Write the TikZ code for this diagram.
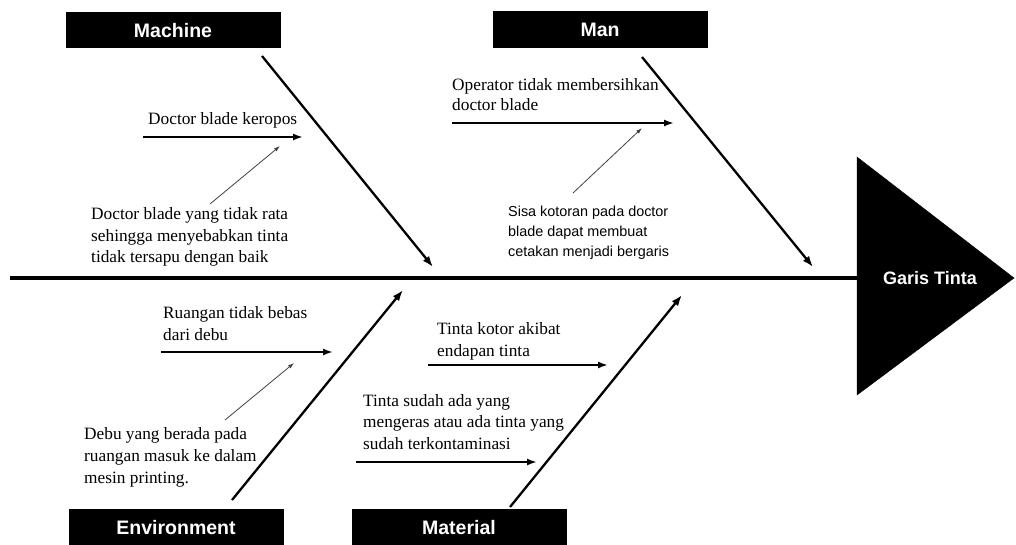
\documentclass[tikz,border=0pt]{standalone}
\usepackage{fontspec}
\setmainfont{Liberation Serif}
\setsansfont{Liberation Sans}
\usetikzlibrary{arrows.meta}

\begin{document}
\begin{tikzpicture}[x=1pt,y=-1pt,
  catbox/.style={fill=black,text=white,minimum width=215pt,minimum height=36pt,inner sep=0pt,text height=14pt,text depth=0pt,font=\sffamily\bfseries\fontsize{19.5}{22}\selectfont},
  causetxt/.style={anchor=west,inner sep=0pt,align=left,font=\fontsize{17.3}{21.5}\selectfont},
  bone/.style={line width=2.3pt,-{Latex[length=11pt,width=8pt]}},
  cause/.style={line width=1.8pt,-{Latex[length=10pt,width=7pt]}},
  subcause/.style={line width=0.8pt,black!75,-{Latex[length=6pt,width=4pt]}}]
  \useasboundingbox (0,0) rectangle (1016,544);

  % head and spine
  \filldraw[black] (857,157) -- (1014,278) -- (857,395) -- cycle;
  \node[text=white,font=\sffamily\bfseries\fontsize{18}{21}\selectfont] (effect) at (930,278) {Garis Tinta};
  \coordinate (tail) at (10,278);
  \coordinate (head) at (858,278);
  \draw[line width=4.5pt] (tail) -- (head);

  % categories
  \node[catbox] (machine) at (173,30) {Machine};
  \node[catbox,minimum height=37pt] (man) at (600,29) {Man};
  \node[catbox] (environment) at (176,527) {Environment};
  \node[catbox] (material) at (459,527) {Material};

  % bones
  \coordinate (machS) at (262,56);   \coordinate (machE) at (433,267);
  \coordinate (manS) at (642,57);    \coordinate (manE) at (813,267);
  \coordinate (envS) at (232,500);   \coordinate (envE) at (403,290);
  \coordinate (matS) at (510,507);   \coordinate (matE) at (682,295);
  \draw[bone] (machS) -- (machE);
  \draw[bone] (manS) -- (manE);
  \draw[bone] (envS) -- (envE);
  \draw[bone] (matS) -- (matE);

  % machine causes
  \node[causetxt] (keropos) at (148,120) {Doctor blade keropos};
  \coordinate (kerS) at (143,137); \coordinate (kerE) at (303,137);
  \draw[cause] (kerS) -- (kerE);
  \node[causetxt] (rata) at (91,237) {Doctor blade yang tidak rata\\sehingga menyebabkan tinta\\tidak tersapu dengan baik};
  \coordinate (rataS) at (210,204); \coordinate (rataE) at (280,146);
  \draw[subcause] (rataS) -- (rataE);

  % man causes
  \node[causetxt,font=\fontsize{17.3}{20}\selectfont] (operator) at (452,95) {Operator tidak membersihkan\\doctor blade};
  \coordinate (opS) at (452,123); \coordinate (opE) at (674,123);
  \draw[cause] (opS) -- (opE);
  \node[causetxt,font=\sffamily\fontsize{14.4}{20}\selectfont] (sisa) at (508,233) {Sisa kotoran pada doctor\\blade dapat membuat\\cetakan menjadi bergaris};
  \coordinate (sisaS) at (573,193); \coordinate (sisaE) at (642,128);
  \draw[subcause] (sisaS) -- (sisaE);

  % environment causes
  \node[causetxt,font=\fontsize{17.3}{22}\selectfont] (ruangan) at (163,324) {Ruangan tidak bebas\\dari debu};
  \coordinate (ruS) at (161,352); \coordinate (ruE) at (333,352);
  \draw[cause] (ruS) -- (ruE);
  \node[causetxt,font=\fontsize{17.3}{22}\selectfont] (debu) at (84,457) {Debu yang berada pada\\ruangan masuk ke dalam\\mesin printing.};
  \coordinate (debuS) at (225,420); \coordinate (debuE) at (294,363);
  \draw[subcause] (debuS) -- (debuE);

  % material causes
  \node[causetxt,font=\fontsize{17.3}{22}\selectfont] (kotor) at (437,341) {Tinta kotor akibat\\endapan tinta};
  \coordinate (kotS) at (428,365); \coordinate (kotE) at (608,365);
  \draw[cause] (kotS) -- (kotE);
  \node[causetxt] (keras) at (363,422) {Tinta sudah ada yang\\mengeras atau ada tinta yang\\sudah terkontaminasi};
  \coordinate (kerasS) at (356,462); \coordinate (kerasE) at (537,462);
  \draw[cause] (kerasS) -- (kerasE);
\end{tikzpicture}
\end{document}
